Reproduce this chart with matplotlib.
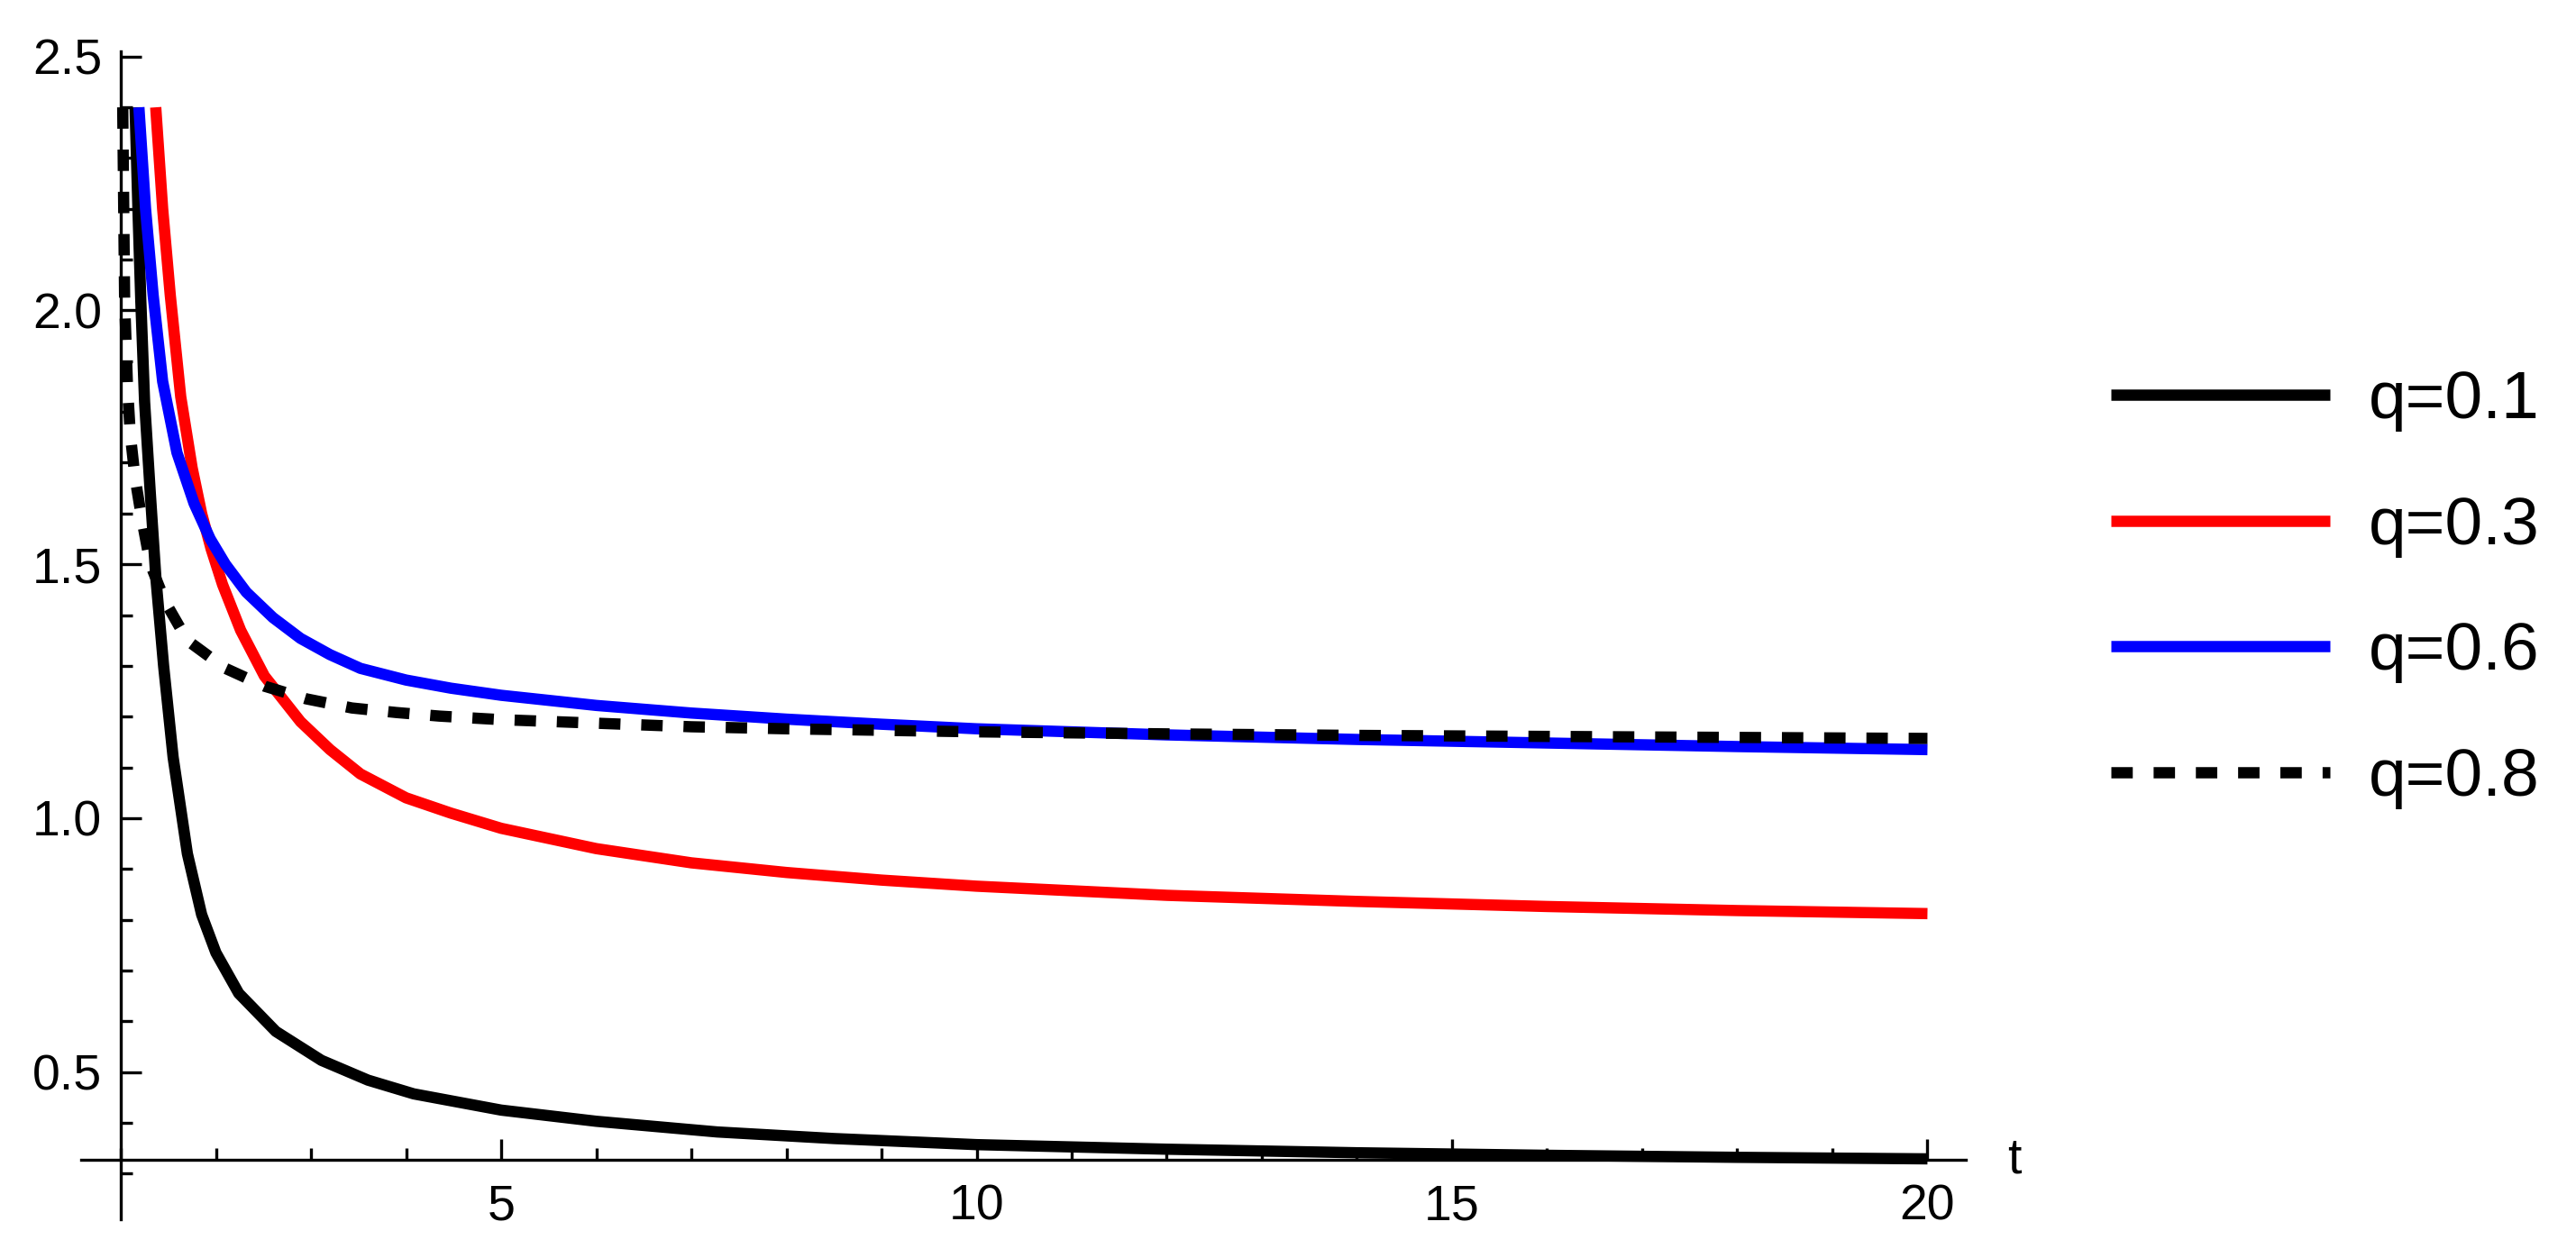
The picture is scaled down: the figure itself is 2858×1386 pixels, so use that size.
import matplotlib
matplotlib.use('Agg')
import matplotlib.pyplot as plt
import numpy as np
from matplotlib.ticker import MultipleLocator, FixedLocator

plt.rcParams['font.family'] = ['Liberation Sans', 'DejaVu Sans']

# values
t_q1 = [1.15, 1.18, 1.21, 1.25, 1.31, 1.37, 1.45, 1.55, 1.70, 1.85, 2.0, 2.24, 2.63,
        3.11, 3.6, 4.08, 5.0, 6.0, 7.27, 8.5, 10.0, 12.0, 14.0, 16.0, 18.0, 20.0]
v_q1 = [2.40, 2.20, 2.02, 1.82, 1.64, 1.47, 1.30, 1.12, 0.93, 0.81, 0.735, 0.655, 0.58,
        0.523, 0.484, 0.457, 0.425, 0.403, 0.382, 0.369, 0.357, 0.348, 0.341, 0.336, 0.332, 0.329]

t_q3 = [1.367, 1.44, 1.52, 1.63, 1.75, 1.85, 1.95, 2.07, 2.26, 2.51, 2.89, 3.2, 3.52,
        4.0, 4.47, 5.0, 6.0, 7.0, 8.0, 9.0, 10.0, 12.0, 14.0, 16.0, 18.0, 20.0]
v_q3 = [2.40, 2.20, 2.03, 1.83, 1.69, 1.60, 1.53, 1.46, 1.37, 1.28, 1.19, 1.135, 1.087,
        1.04, 1.01, 0.98, 0.94, 0.912, 0.893, 0.878, 0.866, 0.848, 0.836, 0.826, 0.818, 0.812]

t_q6 = [1.19, 1.26, 1.34, 1.44, 1.59, 1.77, 1.94, 2.1, 2.32, 2.6, 2.89, 3.2, 3.52, 4.0,
        4.47, 5.0, 6.0, 7.0, 8.0, 9.0, 10.0, 12.0, 14.0, 16.0, 18.0, 20.0]
v_q6 = [2.40, 2.20, 2.03, 1.86, 1.72, 1.62, 1.55, 1.50, 1.445, 1.395, 1.354, 1.322, 1.295, 1.272,
        1.256, 1.242, 1.222, 1.207, 1.195, 1.185, 1.176, 1.164, 1.155, 1.148, 1.141, 1.135]

t_q8 = [1.02, 1.04, 1.07, 1.10, 1.15, 1.22, 1.31, 1.47, 1.70, 2.10, 2.51, 2.95, 3.43,
        3.90, 4.35, 5.0, 6.0, 7.0, 8.0, 9.0, 10.0, 12.0, 14.0, 16.0, 18.0, 20.0]
v_q8 = [2.40, 2.02, 1.85, 1.755, 1.67, 1.59, 1.50, 1.425, 1.35, 1.295, 1.26, 1.235, 1.217,
        1.208, 1.201, 1.194, 1.187, 1.18, 1.176, 1.173, 1.17, 1.166, 1.163, 1.161, 1.159, 1.157]

labels = ['q=0.1', 'q=0.3', 'q=0.6', 'q=0.8']
colors = ['black', '#FF0000', '#0000FF', 'black']

y_origin = 0.327

fig = plt.figure(figsize=(14.29, 6.93), dpi=200)
ax = fig.add_axes([0.0314, 0.0238, 0.7316, 0.935])

lw = 4.5
ax.plot(t_q1, v_q1, color=colors[0], lw=lw, solid_capstyle='butt',
        solid_joinstyle='round', label=labels[0])
ax.plot(t_q3, v_q3, color=colors[1], lw=lw, solid_capstyle='butt',
        solid_joinstyle='round', label=labels[1])
ax.plot(t_q6, v_q6, color=colors[2], lw=lw, solid_capstyle='butt',
        solid_joinstyle='round', label=labels[2])
ax.plot(t_q8, v_q8, color=colors[3], lw=lw, linestyle=(0, (1.9, 1.85)),
        dash_capstyle='butt', label=labels[3])

ax.set_xlim(0.58, 20.4)
ax.set_ylim(0.21, 2.51)

# Mathematica style axes crossing at (1, y_origin)
ax.spines['top'].set_visible(False)
ax.spines['right'].set_visible(False)
ax.spines['left'].set_position(('data', 1))
ax.spines['bottom'].set_position(('data', y_origin))
for s in ['left', 'bottom']:
    ax.spines[s].set_linewidth(1.2)

ax.xaxis.set_major_locator(FixedLocator([5, 10, 15, 20]))
ax.xaxis.set_minor_locator(MultipleLocator(1))
ax.yaxis.set_major_locator(FixedLocator([0.5, 1.0, 1.5, 2.0, 2.5]))
ax.yaxis.set_minor_locator(FixedLocator(np.arange(0.3, 2.45, 0.1)))
ax.set_yticklabels(['0.5', '1.0', '1.5', '2.0', '2.5'])

ax.tick_params(which='both', direction='in', width=1.2, labelsize=20)
ax.tick_params(which='major', length=8.3)
ax.tick_params(which='minor', length=4.7)
ax.tick_params(axis='x', pad=9.5)
ax.tick_params(axis='y', pad=7.5)

ax.text(20.84, y_origin, 't', fontsize=20, ha='left', va='center', clip_on=False)

ax.legend(loc='center left', bbox_to_anchor=(2342 / 2858, 1 - 654 / 1386),
          bbox_transform=fig.transFigure, frameon=False, fontsize=27,
          handlelength=3.24, handletextpad=0.57, labelspacing=0.94,
          borderpad=0, borderaxespad=0)

plt.savefig('out.png', dpi=200)
